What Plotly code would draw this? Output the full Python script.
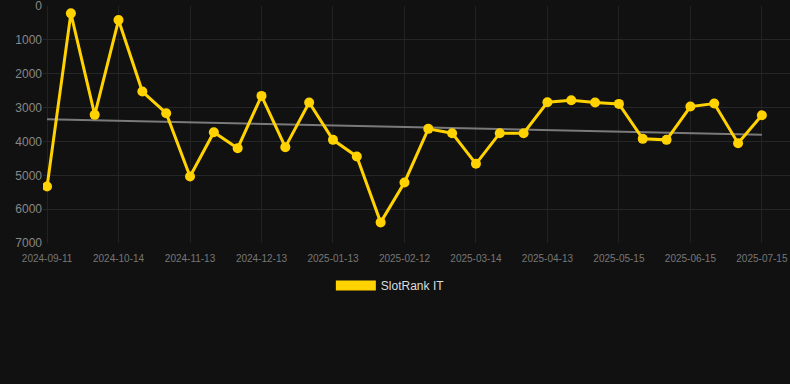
import plotly.graph_objects as go

dates = [
    "2024-09-11", "2024-09-22", "2024-10-03", "2024-10-14", "2024-10-24", "2024-11-03",
    "2024-11-13", "2024-11-23", "2024-12-03", "2024-12-13", "2024-12-23", "2025-01-03",
    "2025-01-13", "2025-01-23", "2025-02-02", "2025-02-12", "2025-02-22", "2025-03-04",
    "2025-03-14", "2025-03-24", "2025-04-03", "2025-04-13", "2025-04-24", "2025-05-04",
    "2025-05-15", "2025-05-25", "2025-06-04", "2025-06-15", "2025-06-25", "2025-07-05",
    "2025-07-15",
]
ranks = [
    5330, 216, 3215, 413, 2527, 3166, 5034, 3727, 4198, 2655, 4169, 2851,
    3953, 4444, 6391, 5211, 3628, 3756, 4661, 3756, 3756, 2842, 2783, 2851,
    2891, 3923, 3953, 2970, 2881, 4051, 3225,
]
trend_values = [3343, 3805]
tick_labels = dates[::3]
y_ticks = [0, 1000, 2000, 3000, 4000, 5000, 6000, 7000]
series_name = "SlotRank IT"

fig = go.Figure()
fig.add_trace(go.Scatter(
    x=[dates[0], dates[-1]], y=trend_values, mode="lines",
    line=dict(color="#7a7a7a", width=2), showlegend=False, hoverinfo="skip",
))
fig.add_trace(go.Scatter(
    x=dates, y=ranks, mode="lines+markers",
    line=dict(color="#FFD200", width=3),
    marker=dict(color="#FFD200", size=10),
    showlegend=False, name=series_name,
))
fig.add_trace(go.Scatter(
    x=[None], y=[None], mode="lines",
    line=dict(color="#FFD200", width=12),
    name=series_name, showlegend=True,
))

fig.update_layout(
    width=790, height=384,
    paper_bgcolor="#111111", plot_bgcolor="#111111",
    margin=dict(l=43, r=0, t=6, b=141, autoexpand=False),
    font=dict(family="Arial, Liberation Sans, sans-serif", color="#888888"),
    legend=dict(orientation="h", x=0.465, xanchor="center",
                y=-0.118, yanchor="top",
                font=dict(size=12, color="#dddddd"), itemwidth=40),
    xaxis=dict(type="category", categoryorder="array", categoryarray=dates,
               tickvals=tick_labels, ticktext=tick_labels,
               range=[-0.17, 31.18], tickangle=0, automargin=False,
               showgrid=True, gridcolor="#222222", zeroline=False,
               tickfont=dict(size=10, color="#777777"), ticks="", showline=False,
               ticklabelstandoff=8, ticklabeloverflow="allow"),
    yaxis=dict(range=[7000, -1], tickvals=y_ticks, automargin=False,
               showgrid=True, gridcolor="#262626", zeroline=False,
               tickfont=dict(size=12, color="#888888"), ticks="", showline=False,
               ticklabeloverflow="allow"),
)

fig.write_html("out.html", config={"displayModeBar": False},
               post_script="document.body.style.margin='0';document.body.style.background='#111111';")
